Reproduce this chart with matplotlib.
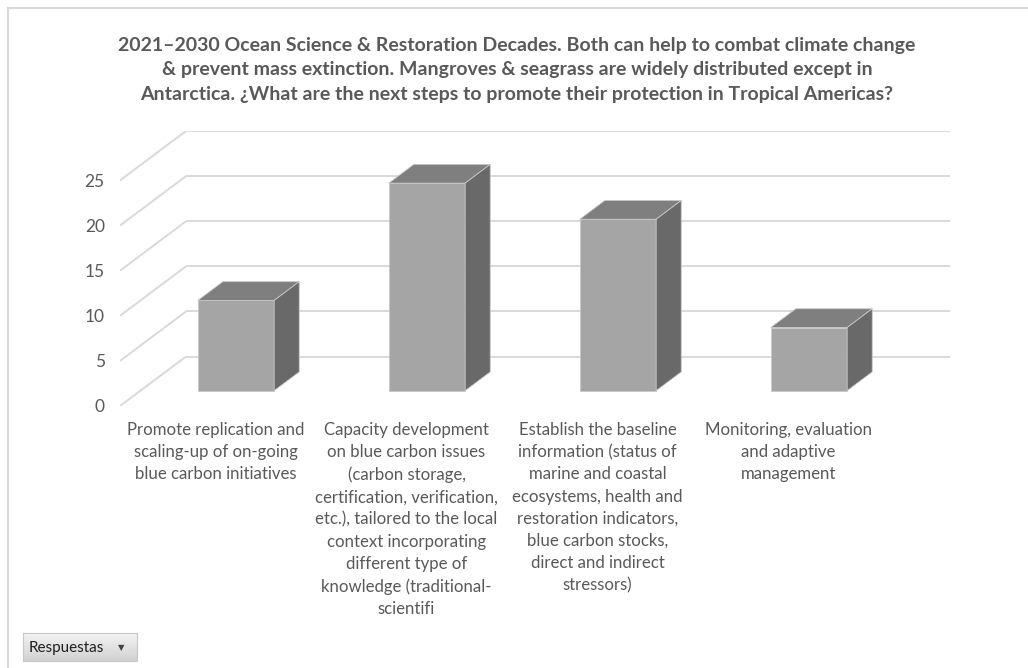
import matplotlib
matplotlib.use("Agg")
import matplotlib.pyplot as plt
from matplotlib.patches import Polygon
from matplotlib.lines import Line2D
import numpy as np

# Chart data
categories = [
    "Promote replication and\nscaling-up of on-going\nblue carbon initiatives",
    "Capacity development\non blue carbon issues\n(carbon storage,\ncertification, verification,\n"
    "etc.), tailored to the local\ncontext incorporating\ndifferent type of\nknowledge (traditional-\nscientifi",
    "Establish the baseline\ninformation (status of\nmarine and coastal\necosystems, health and\n"
    "restoration indicators,\nblue carbon stocks,\ndirect and indirect\nstressors)",
    "Monitoring, evaluation\nand adaptive\nmanagement",
]
values = [10, 23, 19, 7]
yticks = [0, 5, 10, 15, 20, 25]
title = ("2021\u20132030 Ocean Science & Restoration Decades. Both can help to combat climate change\n"
         "& prevent mass extinction. Mangroves & seagrass are widely distributed except in\n"
         "Antarctica. \u00bfWhat are the next steps to promote their protection in Tropical Americas?")

# Style
font = "Lato"
text_col = "#595959"
grid_col = "#D9D9D9"
front_col = "#A5A5A5"
top_col = "#7F7F7F"
side_col = "#696969"

# 3D-ish oblique projection (depth offsets in data units)
DX = 66 / 191      # full depth, horizontal (category units)
DY = 49.3 / 9.0    # full depth, vertical (value units)
f0 = 0.31          # bar front position along depth
fd = 0.38          # bar depth fraction
bw = 0.4           # bar width

W, H = 1028, 668
fig = plt.figure(figsize=(W / 100, H / 100), dpi=100)
fig.patch.set_facecolor("white")

ax = fig.add_axes([120 / W, (H - 406) / H, 830 / W, 275 / H])
n = len(values)
ax.set_xlim(0, n + DX)
ax.set_ylim(0, yticks[-1] + DY)
for s in ax.spines.values():
    s.set_visible(False)
ax.set_xticks([])
ax.set_yticks(yticks)
ax.tick_params(axis="y", length=0, pad=11, labelsize=12.5, labelcolor=text_col)
for lab in ax.get_yticklabels():
    lab.set_fontfamily(font)

# gridlines: diagonal on the side wall + horizontal on back wall
for k in yticks:
    ax.plot([0, DX], [k, k + DY], color=grid_col, lw=1.4, zorder=1, solid_capstyle="butt")
    ax.plot([DX, n + DX], [k + DY, k + DY], color=grid_col, lw=1.4, zorder=1, solid_capstyle="butt")

# bars
xs = np.arange(n) + 0.5 + f0 * DX
b0 = f0 * DY
ax.bar(xs, values, width=bw, bottom=b0, color=front_col, edgecolor="#C8C8C8", linewidth=0.6, zorder=3)
for x, v in zip(xs, values):
    xl, xr = x - bw / 2, x + bw / 2
    top = b0 + v
    ddx, ddy = fd * DX, fd * DY
    ax.add_patch(Polygon([(xl, top), (xr, top), (xr + ddx, top + ddy), (xl + ddx, top + ddy)],
                         closed=True, facecolor=top_col, edgecolor="#C8C8C8", linewidth=0.6, zorder=3))
    ax.add_patch(Polygon([(xr, b0), (xr + ddx, b0 + ddy), (xr + ddx, top + ddy), (xr, top)],
                         closed=True, facecolor=side_col, edgecolor="#C8C8C8", linewidth=0.6, zorder=3))

# category labels
for i, lab in enumerate(categories):
    ax.annotate(lab, xy=(i + 0.5, 0), xytext=(0, -16), textcoords="offset pixels",
                ha="center", va="top", fontsize=12.1, color=text_col, family=font,
                linespacing=1.47, annotation_clip=False)

# title
fig.text(517 / W, 1 - 37 / H, title, ha="center", va="top", fontsize=14, fontweight="bold",
         color=text_col, family=font, linespacing=1.52)

# chart border (left and top)
fig.add_artist(Line2D([8 / W, 8 / W], [0, 1 - 8 / H], color=grid_col, lw=1.5, transform=fig.transFigure))
fig.add_artist(Line2D([8 / W, 1], [1 - 8 / H, 1 - 8 / H], color=grid_col, lw=1.5, transform=fig.transFigure))

# "Respuestas" field button
bax = fig.add_axes([23 / W, (H - 661) / H, 114 / W, 28 / H])
grad = np.linspace(0.95, 0.82, 50).reshape(-1, 1)
bax.imshow(grad, aspect="auto", cmap="gray", vmin=0, vmax=1, extent=[0, 1, 0, 1])
bax.set_xticks([])
bax.set_yticks([])
for s in bax.spines.values():
    s.set_color("#C8C8C8")
    s.set_linewidth(0.8)
bax.text(0.05, 0.48, "Respuestas", ha="left", va="center", fontsize=11, color="#1F1F1F",
         family=font, transform=bax.transAxes)
bax.text(0.86, 0.48, "\u25BC", ha="center", va="center", fontsize=6, color="#404040",
         family="DejaVu Sans", transform=bax.transAxes)

fig.savefig("out.png", dpi=100)
